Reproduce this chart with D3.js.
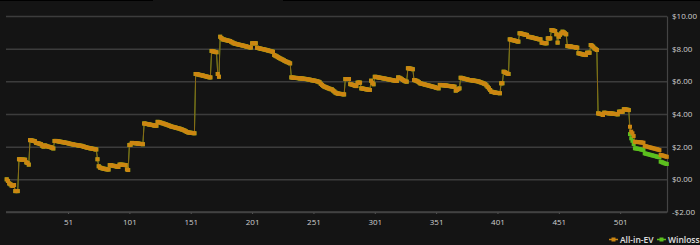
<!DOCTYPE html>
<html>
<head>
<meta charset="utf-8">
<script src="https://cdn.jsdelivr.net/npm/d3@7"></script>
<style>
  html, body { margin: 0; padding: 0; background: #141414; }
  svg { display: block; }
  text { font-family: "Open Sans", "Noto Sans", sans-serif; }
</style>
</head>
<body>
<div id="chart"></div>
<script>
// All-in-EV, one value per hand (hands 1..539)
const allInEV = [
  0.00, -0.10, -0.25, -0.30, -0.38, -0.40, -0.35, -0.72, -0.72, -0.72,
  1.23, 1.22, 1.21, 1.21, 1.20, 1.20, 1.04, 1.00, 0.90, 2.40,
  2.39, 2.37, 2.35, 2.33, 2.23, 2.22, 2.20, 2.17, 2.15, 2.05,
  2.00, 2.08, 2.05, 2.02, 2.00, 1.98, 1.96, 1.93, 1.89, 2.35,
  2.35, 2.34, 2.33, 2.31, 2.30, 2.28, 2.27, 2.26, 2.24, 2.23,
  2.21, 2.19, 2.17, 2.15, 2.14, 2.12, 2.11, 2.10, 2.08, 2.07,
  2.06, 2.05, 2.02, 2.00, 1.98, 1.95, 1.93, 1.92, 1.90, 1.89,
  1.87, 1.86, 1.84, 1.83, 1.23, 0.80, 0.72, 0.70, 0.67, 0.65,
  0.64, 0.62, 0.61, 0.60, 0.87, 0.86, 0.84, 0.83, 0.81, 0.80,
  0.78, 0.76, 0.90, 0.90, 0.89, 0.89, 0.88, 0.87, 0.61, 0.57,
  2.10, 2.12, 2.23, 2.22, 2.22, 2.21, 2.20, 2.19, 2.18, 2.17,
  2.16, 2.15, 3.42, 3.41, 3.39, 3.38, 3.36, 3.35, 3.33, 3.32,
  3.30, 3.29, 3.28, 3.52, 3.50, 3.48, 3.46, 3.43, 3.41, 3.38,
  3.36, 3.33, 3.30, 3.27, 3.24, 3.22, 3.20, 3.18, 3.16, 3.14,
  3.12, 3.10, 3.07, 3.05, 3.02, 2.98, 2.94, 2.90, 2.87, 2.86,
  2.85, 2.84, 2.83, 2.82, 6.45, 6.44, 6.42, 6.40, 6.38, 6.37,
  6.35, 6.33, 6.31, 6.29, 6.27, 6.25, 6.24, 7.86, 7.84, 7.82,
  7.80, 7.78, 6.45, 6.28, 8.73, 8.65, 8.57, 8.56, 8.54, 8.52,
  8.50, 8.48, 8.47, 8.42, 8.38, 8.33, 8.31, 8.29, 8.27, 8.25,
  8.23, 8.22, 8.20, 8.18, 8.16, 8.14, 8.12, 8.10, 8.08, 8.07,
  8.33, 8.33, 8.33, 8.33, 8.06, 8.04, 8.02, 8.00, 7.98, 7.97,
  7.95, 7.93, 7.91, 7.89, 7.87, 7.85, 7.83, 7.81, 7.61, 7.57,
  7.53, 7.48, 7.44, 7.40, 7.36, 7.32, 7.28, 7.24, 7.20, 7.17,
  7.14, 7.10, 6.24, 6.23, 6.22, 6.21, 6.21, 6.20, 6.19, 6.18,
  6.18, 6.17, 6.16, 6.15, 6.14, 6.13, 6.11, 6.10, 6.08, 6.06,
  6.05, 6.04, 6.02, 6.00, 5.98, 5.94, 5.85, 5.78, 5.72, 5.67,
  5.64, 5.61, 5.58, 5.55, 5.52, 5.51, 5.44, 5.38, 5.31, 5.27,
  5.25, 5.24, 5.23, 5.22, 5.21, 5.20, 6.14, 6.14, 6.14, 6.14,
  5.83, 5.81, 5.78, 5.76, 5.73, 5.71, 5.92, 5.92, 5.92, 5.57,
  5.56, 5.54, 5.53, 5.51, 5.50, 5.48, 5.47, 6.04, 5.90, 5.82,
  6.28, 6.27, 6.25, 6.24, 6.22, 6.21, 6.20, 6.18, 6.17, 6.15,
  6.14, 6.12, 6.11, 6.09, 6.08, 6.06, 6.05, 6.03, 6.02, 6.24,
  6.22, 6.18, 6.13, 6.08, 6.04, 6.00, 5.98, 6.80, 6.79, 6.78,
  6.76, 6.74, 6.08, 6.06, 6.03, 5.99, 5.94, 5.88, 5.86, 5.84,
  5.82, 5.80, 5.78, 5.76, 5.74, 5.72, 5.70, 5.68, 5.66, 5.64,
  5.61, 5.59, 5.57, 5.78, 5.77, 5.76, 5.76, 5.75, 5.74, 5.73,
  5.72, 5.71, 5.70, 5.69, 5.68, 5.67, 5.43, 5.47, 5.52, 5.57,
  6.22, 6.20, 6.18, 6.16, 6.14, 6.12, 6.10, 6.08, 6.07, 6.06,
  6.05, 6.04, 6.03, 6.01, 6.00, 5.98, 5.95, 5.92, 5.89, 5.86,
  5.83, 5.75, 5.66, 5.57, 5.47, 5.37, 5.35, 5.33, 5.31, 5.30,
  5.29, 5.28, 5.27, 5.88, 5.88, 6.59, 6.56, 6.52, 6.48, 6.45,
  8.57, 8.55, 8.53, 8.51, 8.49, 8.47, 8.45, 8.43, 8.94, 8.93,
  8.91, 8.89, 8.87, 8.85, 8.84, 8.73, 8.72, 8.70, 8.69, 8.67,
  8.65, 8.63, 8.61, 8.59, 8.57, 8.57, 8.37, 8.35, 8.34, 8.33,
  8.33, 8.63, 8.63, 8.63, 9.14, 9.12, 9.10, 9.08, 8.88, 8.37,
  8.73, 8.85, 8.94, 9.04, 9.00, 8.94, 8.88, 8.16, 8.15, 8.14,
  8.13, 8.11, 8.10, 8.09, 8.07, 8.06, 7.72, 7.70, 7.68, 7.66,
  7.64, 7.62, 7.61, 7.75, 7.75, 7.75, 8.22, 8.18, 8.12, 8.02,
  7.97, 7.92, 4.04, 4.02, 4.00, 3.98, 3.94, 4.08, 4.07, 4.06,
  4.05, 4.04, 4.04, 4.03, 4.02, 4.01, 4.00, 3.99, 3.98, 4.14,
  4.14, 4.14, 4.14, 4.29, 4.28, 4.27, 4.26, 4.24, 3.22, 2.92,
  2.82, 2.65, 2.30, 2.29, 2.28, 2.28, 2.27, 2.26, 2.25, 2.24,
  2.04, 2.02, 2.00, 1.98, 1.96, 1.94, 1.92, 1.90, 1.88, 1.86,
  1.84, 1.82, 1.79, 1.49, 1.47, 1.45, 1.43, 1.40, 1.38
];

// Winloss is the same as All-in-EV until hand 508, then it splits off
const winlossSameUntil = 508;
const winlossTail = [
  2.77, 2.51,
  2.36, 2.16, 1.90, 1.89, 1.88, 1.86, 1.85, 1.83, 1.81, 1.79,
  1.59, 1.57, 1.55, 1.53, 1.51, 1.49, 1.47, 1.45, 1.43, 1.41,
  1.39, 1.37, 1.35, 1.08, 1.05, 1.02, 0.99, 0.96, 0.94
];

const xTicks = [51, 101, 151, 201, 251, 301, 351, 401, 451, 501];
const yTicks = [-2, 0, 2, 4, 6, 8, 10];
const seriesNames = ["All-in-EV", "Winloss"];

const winloss = allInEV.slice(0, winlossSameUntil).concat(winlossTail);

const W = 700, H = 245;
const plotLeft = 6, plotRight = 667, plotTop = 16, plotBottom = 212;

const svg = d3.select("#chart").append("svg")
  .attr("width", W).attr("height", H);

svg.append("rect").attr("width", W).attr("height", H).attr("fill", "#141414");

// thin dark strip at the very top
svg.append("rect").attr("x", 0).attr("y", 0).attr("width", 153).attr("height", 1).attr("fill", "#000");
svg.append("rect").attr("x", 283).attr("y", 0).attr("width", W - 283).attr("height", 1).attr("fill", "#000");

const x = d3.scaleLinear().domain([1, allInEV.length]).range([6.7, 666.8]);
const y = d3.scaleLinear().domain([-2, 10]).range([plotBottom, plotTop]);

const fmt = v => (v < 0 ? "-" : "") + "$" + Math.abs(v).toFixed(2);

// y axis + grid
const yAxis = svg.append("g")
  .attr("transform", `translate(${plotRight},0)`)
  .call(d3.axisRight(y).tickValues(yTicks).tickFormat(fmt)
    .tickSize(-(plotRight - plotLeft)).tickSizeOuter(0).tickPadding(5));
yAxis.select(".domain").attr("stroke", "#444").attr("stroke-width", 1.2);
yAxis.selectAll(".tick line").attr("stroke", "#3c3c3c").attr("stroke-width", 1.5);
yAxis.selectAll(".tick text")
  .attr("fill", "#d0d0d0").attr("font-size", 8).attr("font-family", "Open Sans");

// x axis
const xAxis = svg.append("g")
  .attr("transform", `translate(0,${plotBottom})`)
  .call(d3.axisBottom(x).tickValues(xTicks).tickSize(2).tickSizeOuter(0).tickPadding(5));
xAxis.select(".domain").remove();
xAxis.selectAll(".tick line").attr("stroke", "#555");
xAxis.selectAll(".tick text")
  .attr("fill", "#d0d0d0").attr("font-size", 8).attr("font-family", "Open Sans");

svg.append("line")
  .attr("x1", plotLeft).attr("x2", plotRight).attr("y1", plotBottom).attr("y2", plotBottom)
  .attr("stroke", "#444").attr("stroke-width", 1.5);

// series
function drawSeries(values, color, lineColor) {
  const g = svg.append("g");
  g.append("path")
    .datum(values)
    .attr("fill", "none")
    .attr("stroke", lineColor)
    .attr("stroke-width", 1)
    .attr("d", d3.line().x((d, i) => x(i + 1)).y(d => y(d)));
  g.selectAll("rect")
    .data(values)
    .enter()
    .append("rect")
      .attr("x", (d, i) => x(i + 1) - 2)
      .attr("y", d => y(d) - 2)
      .attr("width", 4)
      .attr("height", 4)
      .attr("fill", color);
}

drawSeries(winloss, "#5cbf1f", "#4f8a1c");
drawSeries(allInEV, "#cc8612", "#8a6a16");

// legend
const legend = [
  { name: seriesNames[0], color: "#cc8612", x: 609 },
  { name: seriesNames[1], color: "#5cbf1f", x: 657 }
];
const lg = svg.append("g");
legend.forEach(l => {
  lg.append("line")
    .attr("x1", l.x).attr("x2", l.x + 9).attr("y1", 239.5).attr("y2", 239.5)
    .attr("stroke", l.color).attr("stroke-width", 1.5);
  lg.append("rect")
    .attr("x", l.x + 2.5).attr("y", 237.5).attr("width", 4).attr("height", 4)
    .attr("fill", l.color);
  lg.append("text")
    .attr("x", l.x + 11).attr("y", 242.5)
    .attr("fill", "#e0e0e0")
    .attr("font-size", 8.5)
    .attr("font-weight", 600)
    .text(l.name);
});

// x axis title, cut off by the bottom edge
svg.append("text")
  .attr("x", 347).attr("y", 251.5)
  .attr("text-anchor", "middle")
  .attr("fill", "#8a8a8a")
  .attr("font-size", 9)
  .text("Hands Played");
</script>
</body>
</html>
